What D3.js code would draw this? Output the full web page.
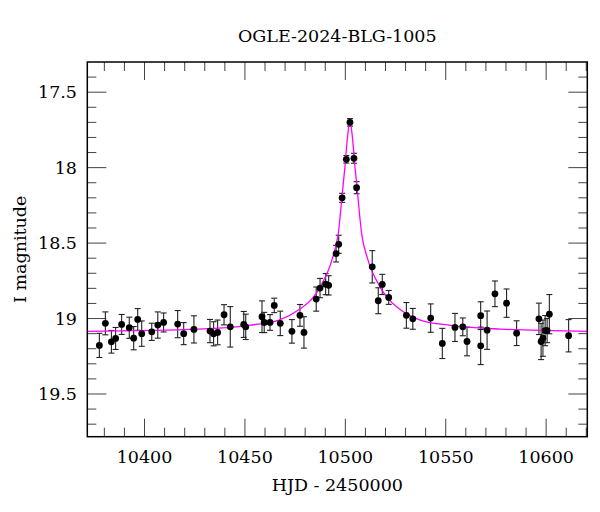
<!DOCTYPE html>
<html>
<head>
<meta charset="utf-8">
<script src="https://cdn.jsdelivr.net/npm/d3@7"></script>
<style>
  body { margin: 0; background: #fff; }
  text { font-family: "DejaVu Serif", serif; fill: #000; }
</style>
</head>
<body>
<div id="chart"></div>
<script>
// OGLE photometry (HJD - 2450000, I mag, error)
const hjd = [10377.5, 10380.5, 10383.5, 10385.6, 10388.6, 10392.4, 10394.6, 10396.6, 10398.6, 10403.6,
  10406.6, 10409.5, 10416.5, 10419.5, 10424.6, 10432.6, 10434.4, 10436.4, 10439.6, 10442.7,
  10449.4, 10450.4, 10458.5, 10459.6, 10462.5, 10464.6, 10467.6, 10473.4, 10477.4, 10479.4,
  10485.5, 10487.4, 10490.2, 10491.7, 10495.4, 10496.7, 10498.4, 10500.5, 10502.3, 10504.3,
  10505.6, 10513.4, 10516.4, 10518.4, 10521.6, 10530.4, 10533.6, 10542.5, 10548.3, 10554.6,
  10558.5, 10560.6, 10567.4, 10567.4, 10570.6, 10574.5, 10580.3, 10585.3, 10596.4, 10597.5,
  10598.4, 10599.5, 10600.5, 10601.6, 10611.2];
const mag = [19.178, 19.032, 19.154, 19.132, 19.039, 19.061, 19.13, 19.006, 19.1, 19.088,
  19.043, 19.026, 19.037, 19.1, 19.072, 19.083, 19.101, 19.092, 18.975, 19.055,
  19.039, 19.055, 18.988, 19.026, 19.026, 18.913, 19.032, 19.085, 18.979, 19.092,
  18.871, 18.798, 18.772, 18.78, 18.57, 18.508, 18.2, 17.945, 17.7, 17.938,
  18.133, 18.657, 18.882, 18.774, 18.86, 18.979, 19.002, 18.997, 19.165, 19.059,
  19.055, 19.152, 18.981, 19.181, 19.077, 18.836, 18.898, 19.097, 19.002, 19.152,
  19.13, 19.08, 19.08, 18.971, 19.114];
const err = [0.08, 0.076, 0.075, 0.073, 0.066, 0.07, 0.077, 0.072, 0.084, 0.057,
  0.087, 0.063, 0.09, 0.073, 0.09, 0.077, 0.08, 0.082, 0.067, 0.134,
  0.086, 0.084, 0.105, 0.067, 0.052, 0.048, 0.081, 0.078, 0.072, 0.104,
  0.08, 0.064, 0.07, 0.064, 0.055, 0.06, 0.03, 0.025, 0.025, 0.033,
  0.04, 0.107, 0.086, 0.067, 0.046, 0.085, 0.069, 0.094, 0.1, 0.093,
  0.059, 0.095, 0.092, 0.124, 0.127, 0.085, 0.094, 0.082, 0.104, 0.12,
  0.12, 0.1, 0.08, 0.13, 0.107];

// model light curve
const modelT = [10371, 10427, 10452, 10467, 10477, 10484, 10487.5, 10493.6, 10496.5, 10498.5,
  10499.8, 10501.1, 10502.3, 10503.5, 10504.8, 10506.1, 10508.1, 10511, 10517.3, 10520.8,
  10527.3, 10537.3, 10552.3, 10577.3, 10621];
const modelMag = [19.085, 19.07, 19.045, 19.01, 18.94, 18.86, 18.79, 18.6, 18.436, 18.17,
  17.994, 17.795, 17.69, 17.795, 17.994, 18.17, 18.436, 18.6, 18.79, 18.86,
  18.94, 19.01, 19.045, 19.07, 19.085];

const title = "OGLE-2024-BLG-1005";
const xTicks = [10400, 10450, 10500, 10550, 10600];
const yTicks = [17.5, 18, 18.5, 19, 19.5];

const width = 600, height = 512;
const m = { left: 87.3, right: 587.3, top: 62, bottom: 436.7 };
const fontSize = "17.5px";

const svg = d3.select("#chart").append("svg")
  .attr("width", width)
  .attr("height", height);

const x = d3.scaleLinear().domain([10371.5, 10620.5]).range([m.left, m.right]);
const y = d3.scaleLinear().domain([17.3, 19.783]).range([m.top, m.bottom]);

const plot = svg.append("g");

// clip for the model curve
svg.append("clipPath").attr("id", "clip")
  .append("rect").attr("x", m.left).attr("y", m.top)
  .attr("width", m.right - m.left).attr("height", m.bottom - m.top);

// minor + major ticks on all four sides, pointing inwards
const xMinor = d3.range(10380, 10621, 10);
const yMinor = d3.range(17.4, 19.79, 0.1).map(v => +v.toFixed(1));
const isMajorX = v => v % 50 === 0;
const isMajorY = v => Math.abs(v * 2 - Math.round(v * 2)) < 1e-6;

const tickG = plot.append("g").attr("stroke", "#444").attr("stroke-width", 1);
xMinor.forEach(v => {
  const len = isMajorX(v) ? 18 : 9;
  tickG.append("line").attr("x1", x(v)).attr("x2", x(v)).attr("y1", m.bottom).attr("y2", m.bottom - len);
  tickG.append("line").attr("x1", x(v)).attr("x2", x(v)).attr("y1", m.top).attr("y2", m.top + len);
});
yMinor.forEach(v => {
  const len = isMajorY(v) ? 19 : 9;
  tickG.append("line").attr("y1", y(v)).attr("y2", y(v)).attr("x1", m.left).attr("x2", m.left + len);
  tickG.append("line").attr("y1", y(v)).attr("y2", y(v)).attr("x1", m.right).attr("x2", m.right - len);
});

// error bars
const data = hjd.map((t, i) => ({ t, mg: mag[i], e: err[i] }));
const eb = plot.append("g").attr("stroke", "#222").attr("stroke-width", 1.1);
data.forEach(d => {
  const cx = x(d.t);
  eb.append("line").attr("x1", cx).attr("x2", cx).attr("y1", y(d.mg - d.e)).attr("y2", y(d.mg + d.e));
  eb.append("line").attr("x1", cx - 3).attr("x2", cx + 3).attr("y1", y(d.mg - d.e)).attr("y2", y(d.mg - d.e));
  eb.append("line").attr("x1", cx - 3).attr("x2", cx + 3).attr("y1", y(d.mg + d.e)).attr("y2", y(d.mg + d.e));
});

// model
const line = d3.line()
  .x((d, i) => x(modelT[i]))
  .y(d => y(d))
  .curve(d3.curveMonotoneX);
plot.append("path")
  .datum(modelMag)
  .attr("clip-path", "url(#clip)")
  .attr("fill", "none")
  .attr("stroke", "#ff00ff")
  .attr("stroke-width", 1.3)
  .attr("d", line);

// points
plot.append("g").selectAll("circle")
  .data(data)
  .enter()
  .append("circle")
  .attr("cx", d => x(d.t))
  .attr("cy", d => y(d.mg))
  .attr("r", 3.4)
  .attr("fill", "#000");

// frame
plot.append("rect")
  .attr("x", m.left).attr("y", m.top)
  .attr("width", m.right - m.left).attr("height", m.bottom - m.top)
  .attr("fill", "none").attr("stroke", "#000").attr("stroke-width", 1.5);

// tick labels
svg.append("g").selectAll("text")
  .data(xTicks).enter().append("text")
  .attr("x", d => x(d)).attr("y", 463)
  .attr("text-anchor", "middle")
  .style("font-size", fontSize)
  .text(d => d);

svg.append("g").selectAll("text")
  .data(yTicks).enter().append("text")
  .attr("x", 77).attr("y", d => y(d))
  .attr("dy", "0.35em")
  .attr("text-anchor", "end")
  .style("font-size", fontSize)
  .text(d => d);

// titles
svg.append("text")
  .attr("x", (m.left + m.right) / 2).attr("y", 42)
  .attr("text-anchor", "middle")
  .style("font-size", fontSize)
  .text(title);

svg.append("text")
  .attr("x", (m.left + m.right) / 2).attr("y", 491)
  .attr("text-anchor", "middle")
  .style("font-size", fontSize)
  .text("HJD - 2450000");

svg.append("text")
  .attr("transform", `translate(26, ${(m.top + m.bottom) / 2}) rotate(-90)`)
  .attr("text-anchor", "middle")
  .style("font-size", fontSize)
  .text("I magnitude");
</script>
</body>
</html>
